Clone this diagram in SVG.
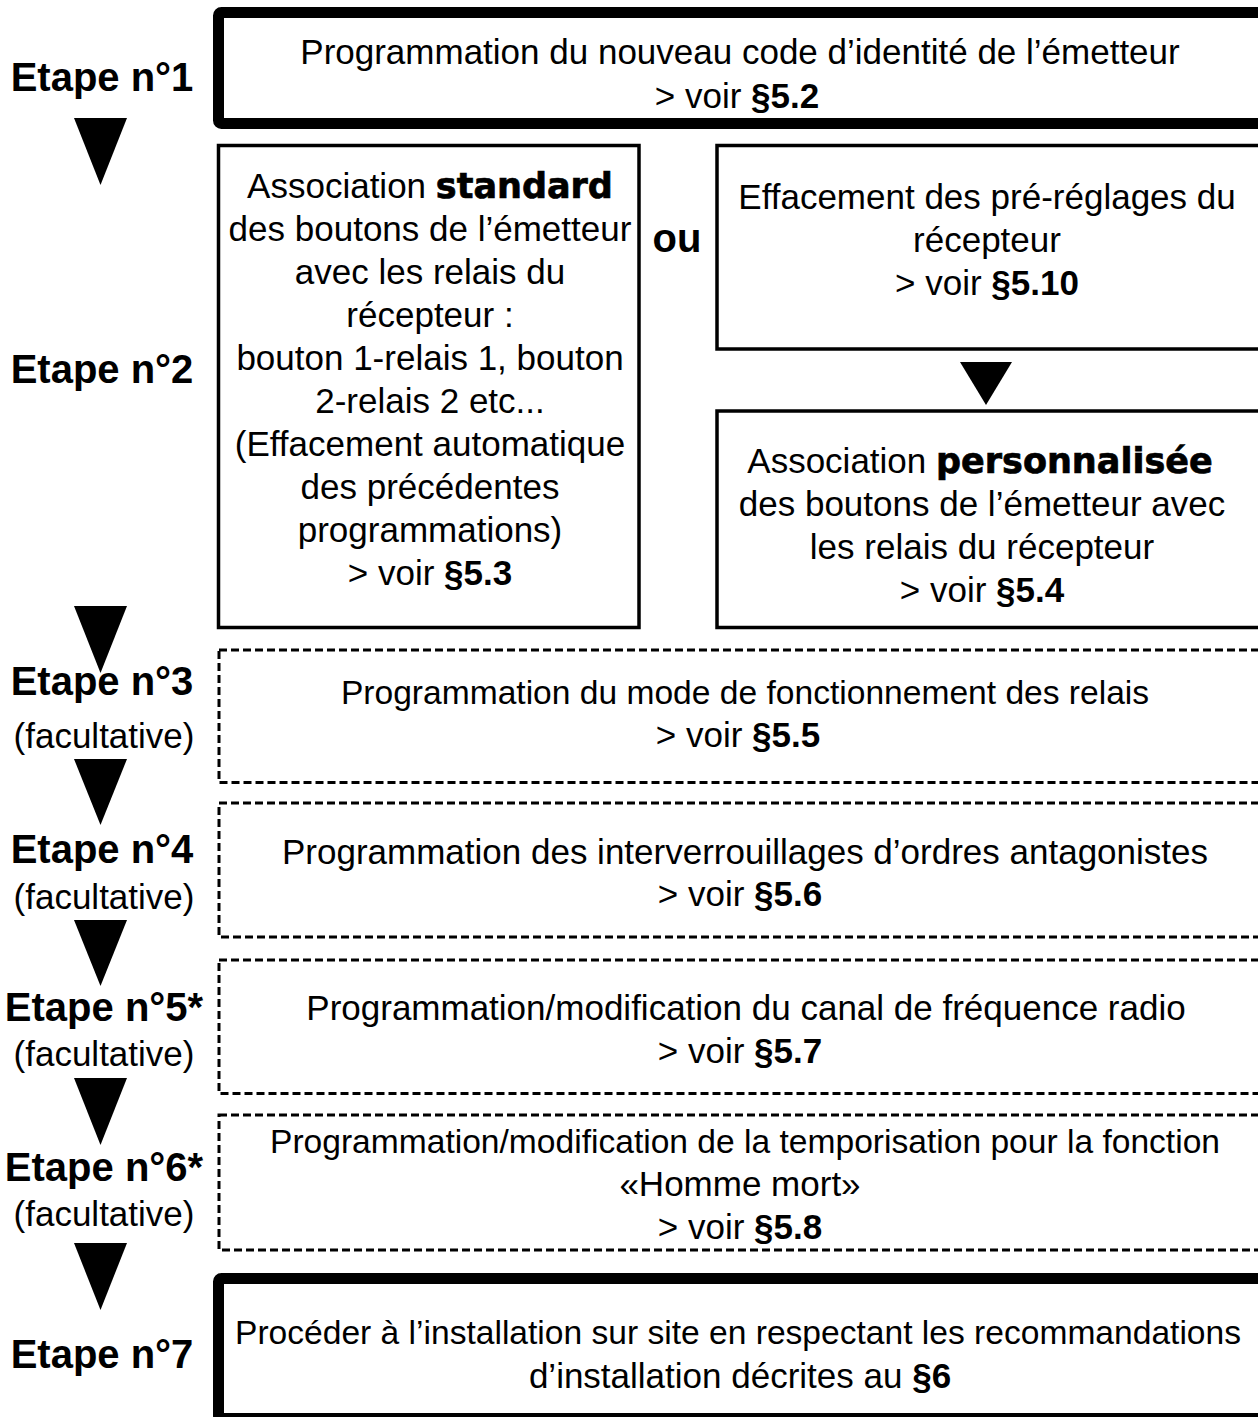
<svg xmlns="http://www.w3.org/2000/svg" width="1258" height="1417" viewBox="0 0 1258 1417">
<style>
.thick{fill:#fff;stroke:#000;stroke-width:11}
.box{fill:#fff;stroke:#000;stroke-width:3.5}
.dash{fill:#fff;stroke:#000;stroke-width:3;stroke-dasharray:8 4}
.t{font-family:"Liberation Sans",Arial,sans-serif;font-size:35px;fill:#000;text-anchor:middle}
.s{font-size:33.6px}
.b{font-weight:bold}
.blk{font-family:"DejaVu Sans","Liberation Sans",sans-serif;font-weight:bold;stroke:#000;stroke-width:0.7}
.lab{font-family:"Liberation Sans",Arial,sans-serif;font-size:40px;font-weight:bold;fill:#000;text-anchor:middle}
.fac{font-family:"Liberation Sans",Arial,sans-serif;font-size:35px;fill:#000;text-anchor:middle}
.arr{fill:#000}
</style>
<rect width="1258" height="1417" fill="#fff"/>
<g id="connectors">
<polygon class="arr" points="74,118 127,118 100.5,185"/>
<polygon class="arr" points="74,606 127,606 100.5,673"/>
<polygon class="arr" points="74,759 127,759 100.5,825"/>
<polygon class="arr" points="74,920 127,920 100.5,986"/>
<polygon class="arr" points="74,1078 127,1078 100.5,1145"/>
<polygon class="arr" points="74,1243 127,1243 100.5,1310"/>
<polygon class="arr" points="960,362 1012,362 986,405"/>
</g>
<g id="labels">
<text class="lab" x="102" y="91">Etape n°1</text>
<text class="lab" x="102" y="383">Etape n°2</text>
<text class="lab" x="102" y="695">Etape n°3</text>
<text class="fac" x="104" y="748">(facultative)</text>
<text class="lab" x="102" y="863">Etape n°4</text>
<text class="fac" x="104" y="909">(facultative)</text>
<text class="lab" x="104" y="1021">Etape n°5*</text>
<text class="fac" x="104" y="1066">(facultative)</text>
<text class="lab" x="104" y="1181">Etape n°6*</text>
<text class="fac" x="104" y="1226">(facultative)</text>
<text class="lab" x="102" y="1368">Etape n°7</text>
</g>
<g id="step1">
<rect class="thick" x="218.5" y="12.5" width="1060" height="111" rx="3"/>
<text class="t" x="740" y="64">Programmation du nouveau code d’identité de l’émetteur</text>
<text class="t" x="737" y="108">&gt; voir <tspan class="b">§5.2</tspan></text>
</g>
<g id="step2-standard">
<rect class="box" x="218.5" y="145.5" width="420.5" height="482"/>
<text class="t" x="430" y="198">Association <tspan class="blk">standard</tspan></text>
<text class="t" x="430" y="241">des boutons de l’émetteur</text>
<text class="t" x="430" y="284">avec les relais du</text>
<text class="t" x="430" y="327">récepteur :</text>
<text class="t" x="430" y="370">bouton 1-relais 1, bouton</text>
<text class="t" x="430" y="413">2-relais 2 etc...</text>
<text class="t" x="430" y="456">(Effacement automatique</text>
<text class="t" x="430" y="499">des précédentes</text>
<text class="t" x="430" y="542">programmations)</text>
<text class="t" x="430" y="585">&gt; voir <tspan class="b">§5.3</tspan></text>
</g>
<g id="ou">
<text class="lab" x="677" y="252">ou</text>
</g>
<g id="step2-effacement">
<rect class="box" x="717" y="145.5" width="560" height="203.5"/>
<text class="t" x="987" y="209">Effacement des pré-réglages du</text>
<text class="t" x="987" y="252">récepteur</text>
<text class="t" x="987" y="295">&gt; voir <tspan class="b">§5.10</tspan></text>
</g>
<g id="step2-personnalisee">
<rect class="box" x="717" y="411" width="560" height="216.5"/>
<text class="t" x="980" y="473">Association <tspan class="blk">personnalisée</tspan></text>
<text class="t" x="982" y="516">des boutons de l’émetteur avec</text>
<text class="t" x="982" y="559">les relais du récepteur</text>
<text class="t" x="982" y="602">&gt; voir <tspan class="b">§5.4</tspan></text>
</g>
<g id="step3">
<rect class="dash" x="219" y="650" width="1060" height="132.5"/>
<text class="t s" x="745" y="704">Programmation du mode de fonctionnement des relais</text>
<text class="t" x="738" y="747">&gt; voir <tspan class="b">§5.5</tspan></text>
</g>
<g id="step4">
<rect class="dash" x="219" y="803" width="1060" height="134"/>
<text class="t" x="745" y="864">Programmation des interverrouillages d’ordres antagonistes</text>
<text class="t" x="740" y="906">&gt; voir <tspan class="b">§5.6</tspan></text>
</g>
<g id="step5">
<rect class="dash" x="219" y="960" width="1060" height="133.5"/>
<text class="t" x="746" y="1020">Programmation/modification du canal de fréquence radio</text>
<text class="t" x="740" y="1063">&gt; voir <tspan class="b">§5.7</tspan></text>
</g>
<g id="step6">
<rect class="dash" x="219" y="1115" width="1060" height="135"/>
<text class="t s" x="745" y="1153">Programmation/modification de la temporisation pour la fonction</text>
<text class="t" x="740" y="1196">«Homme mort»</text>
<text class="t" x="740" y="1239">&gt; voir <tspan class="b">§5.8</tspan></text>
</g>
<g id="step7">
<rect class="thick" x="218.5" y="1278.5" width="1060" height="140" rx="3"/>
<text class="t s" x="738" y="1344">Procéder à l’installation sur site en respectant les recommandations</text>
<text class="t" x="740" y="1388">d’installation décrites au <tspan class="b">§6</tspan></text>
</g>
</svg>
